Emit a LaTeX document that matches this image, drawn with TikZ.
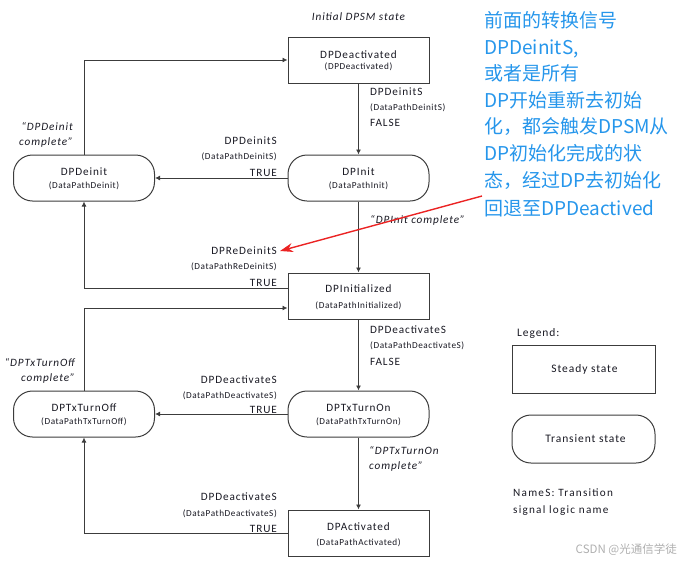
\documentclass[tikz,border=0pt]{standalone}
\usepackage{fontspec}
\setmainfont{Carlito}
\newfontfamily\lsfont[LetterSpace=8]{Carlito}
\newfontfamily\subfont[LetterSpace=6]{Carlito}
\newfontfamily\legfont[LetterSpace=11]{Carlito}
\newfontfamily\cjkfont{Noto Sans CJK SC}
\usetikzlibrary{arrows.meta}
\definecolor{linec}{RGB}{60,60,60}
\definecolor{textc}{RGB}{25,25,35}
\definecolor{noteblue}{RGB}{38,150,235}
\definecolor{redarrow}{RGB}{235,35,35}
\definecolor{wmgrey}{RGB}{175,175,175}
\begin{document}
\begin{tikzpicture}[x=1pt,y=-1pt,
  box/.style={draw=linec, line width=1pt, minimum width=141pt, minimum height=46pt, inner sep=0pt, fill=white},
  tbox/.style={box, rounded corners=19pt},
  conn/.style={draw=linec, line width=0.9pt, -{Latex[length=5pt,width=5pt]}},
  ttl/.style={font=\lsfont\fontsize{11.2}{13}\selectfont, text=textc, inner sep=0pt},
  subt/.style={font=\subfont\fontsize{9.2}{11}\selectfont, text=textc, inner sep=0pt},
  lbl/.style={font=\lsfont\fontsize{11.2}{13}\selectfont, text=textc, inner sep=0pt},
  itl/.style={font=\lsfont\itshape\fontsize{11.2}{15.5}\selectfont, text=textc, inner sep=0pt},
  leg/.style={font=\lsfont\fontsize{11.5}{13}\selectfont, text=textc, inner sep=0pt},
  note/.style={font=\cjkfont\fontsize{19}{22}\selectfont, text=noteblue, inner sep=0pt, anchor=base west},
]
\useasboundingbox (0,0) rectangle (684,565);

% ---------- state boxes ----------
\node[box]  (deact) at (358.5,60)  {};
\node[tbox] (init)  at (358.5,178) {};
\node[tbox] (deinit) at (84,178)   {};
\node[box]  (initd) at (358.5,296) {};
\node[tbox] (txon)  at (358.5,414) {};
\node[tbox] (txoff) at (84,414)    {};
\node[box]  (act)   at (358.5,533) {};

% box texts
\node[ttl]  (deactT) at ([yshift=5pt]deact.center) {DPDeactivated};
\node[subt] (deactS) at ([yshift=-7pt]deact.center) {(DPDeactivated)};
\node[ttl]  (initT) at ([yshift=6pt]init.center) {DPInit};
\node[subt] (initS) at ([yshift=-8pt]init.center) {(DataPathInit)};
\node[ttl]  (deinitT) at ([yshift=6pt]deinit.center) {DPDeinit};
\node[subt] (deinitS) at ([yshift=-8pt]deinit.center) {(DataPathDeinit)};
\node[ttl]  (initdT) at ([yshift=7pt]initd.center) {DPInitialized};
\node[subt] (initdS) at ([yshift=-10pt]initd.center) {(DataPathInitialized)};
\node[ttl]  (txonT) at ([yshift=6pt]txon.center) {DPTxTurnOn};
\node[subt] (txonS) at ([yshift=-8pt]txon.center) {(DataPathTxTurnOn)};
\node[ttl]  (txoffT) at ([yshift=6pt]txoff.center) {DPTxTurnOff};
\node[subt] (txoffS) at ([yshift=-8pt]txoff.center) {(DataPathTxTurnOff)};
\node[ttl]  (actT) at ([yshift=6pt]act.center) {DPActivated};
\node[subt] (actS) at ([yshift=-10pt]act.center) {(DataPathActivated)};

\node[itl] (initial) at (358.5,17) {Initial DPSM state};

% ---------- connectors ----------
\draw[conn] (deinit.north) |- (deact.west);
\draw[conn] (deact.south) -- (init.north);
\draw[conn] (init.west) -- (deinit.east);
\draw[conn] (init.south) -- (initd.north);
\coordinate (redeinitOut) at ([yshift=8pt]initd.west);
\coordinate (txoffIn) at ([yshift=-12pt]initd.west);
\draw[conn] (redeinitOut) -| (deinit.south);
\draw[conn] (txoff.north) |- (txoffIn);
\draw[conn] (initd.south) -- (txon.north);
\draw[conn] (txon.west) -- (txoff.east);
\draw[conn] (txon.south) -- (act.north);
\draw[conn] (act.west) -| (txoff.south);

% ---------- transition labels ----------
\node[lbl, anchor=west]  (l1a) at (370,92)  {DPDeinitS};
\node[subt, anchor=west] (l1b) at (370,108) {(DataPathDeinitS)};
\node[lbl, anchor=west]  (l1c) at (370,123) {FALSE};
\node[lbl, anchor=east]  (l2a) at (277,141) {DPDeinitS};
\node[subt, anchor=east] (l2b) at (277,157) {(DataPathDeinitS)};
\node[lbl, anchor=east]  (l2c) at (277,173) {TRUE};
\node[itl, anchor=west]  (l3) at (370,220) {“DPInit complete”};
\node[lbl, anchor=east]  (l4a) at (277,251) {DPReDeinitS};
\node[subt, anchor=east] (l4b) at (277,267) {(DataPathReDeinitS)};
\node[lbl, anchor=east]  (l4c) at (277,283) {TRUE};
\node[itl, anchor=east, align=right] (l5) at (73,135) {“DPDeinit\\complete”};
\node[lbl, anchor=west]  (l6a) at (370,330) {DPDeactivateS};
\node[subt, anchor=west] (l6b) at (370,346) {(DataPathDeactivateS)};
\node[lbl, anchor=west]  (l6c) at (370,362) {FALSE};
\node[lbl, anchor=east]  (l7a) at (277,380) {DPDeactivateS};
\node[subt, anchor=east] (l7b) at (277,396) {(DataPathDeactivateS)};
\node[lbl, anchor=east]  (l7c) at (277,410) {TRUE};
\node[itl, anchor=east, align=right] (l8) at (75,371) {“DPTxTurnOff\\complete”};
\node[itl, anchor=west, align=left] (l9) at (369,459) {“DPTxTurnOn\\complete”};
\node[lbl, anchor=east]  (l10a) at (277,497) {DPDeactivateS};
\node[subt, anchor=east] (l10b) at (277,514) {(DataPathDeactivateS)};
\node[lbl, anchor=east]  (l10c) at (277,529) {TRUE};

% ---------- legend ----------
\node[leg, anchor=west] (leglbl) at (517,333) {Legend:};
\node[box, minimum width=143pt, minimum height=48pt] (legsteady) at (583.5,369) {};
\node[leg] (legsteadyT) at ([xshift=1pt]legsteady.center) {Steady state};
\node[tbox, minimum width=143pt, minimum height=48pt] (legtrans) at (583.5,439) {};
\node[leg] (legtransT) at ([xshift=2pt]legtrans.center) {Transient state};
\node[font=\legfont\fontsize{11.2}{16.5}\selectfont, text=textc, inner sep=0pt, anchor=west, align=left] (legname) at (513,502) {NameS: Transition\\signal logic name};

% ---------- annotation ----------
\node[note] (n1) at (484,27)  {前面的转换信号};
\node[note] (n2) at (484,54)  {DPDeinitS,};
\node[note] (n3) at (484,80)  {或者是所有};
\node[note] (n4) at (484,107) {DP开始重新去初始};
\node[note] (n5) at (484,133) {化，都会触发DPSM从};
\node[note] (n6) at (484,160) {DP初始化完成的状};
\node[note] (n7) at (484,187) {态，经过DP去初始化};
\node[note] (n8) at (484,215) {回退至DPDeactived};

\coordinate (redstart) at (482,196);
\draw[redarrow, line width=1.4pt, -{Stealth[length=13pt,width=9pt]}] (redstart) -- ([xshift=3pt]l4a.east);

% watermark
\node[font=\cjkfont\fontsize{11.5}{13}\selectfont, text=wmgrey, anchor=east, inner sep=0pt] (wm) at (677,550) {CSDN @光通信学徒};
\end{tikzpicture}
\end{document}
